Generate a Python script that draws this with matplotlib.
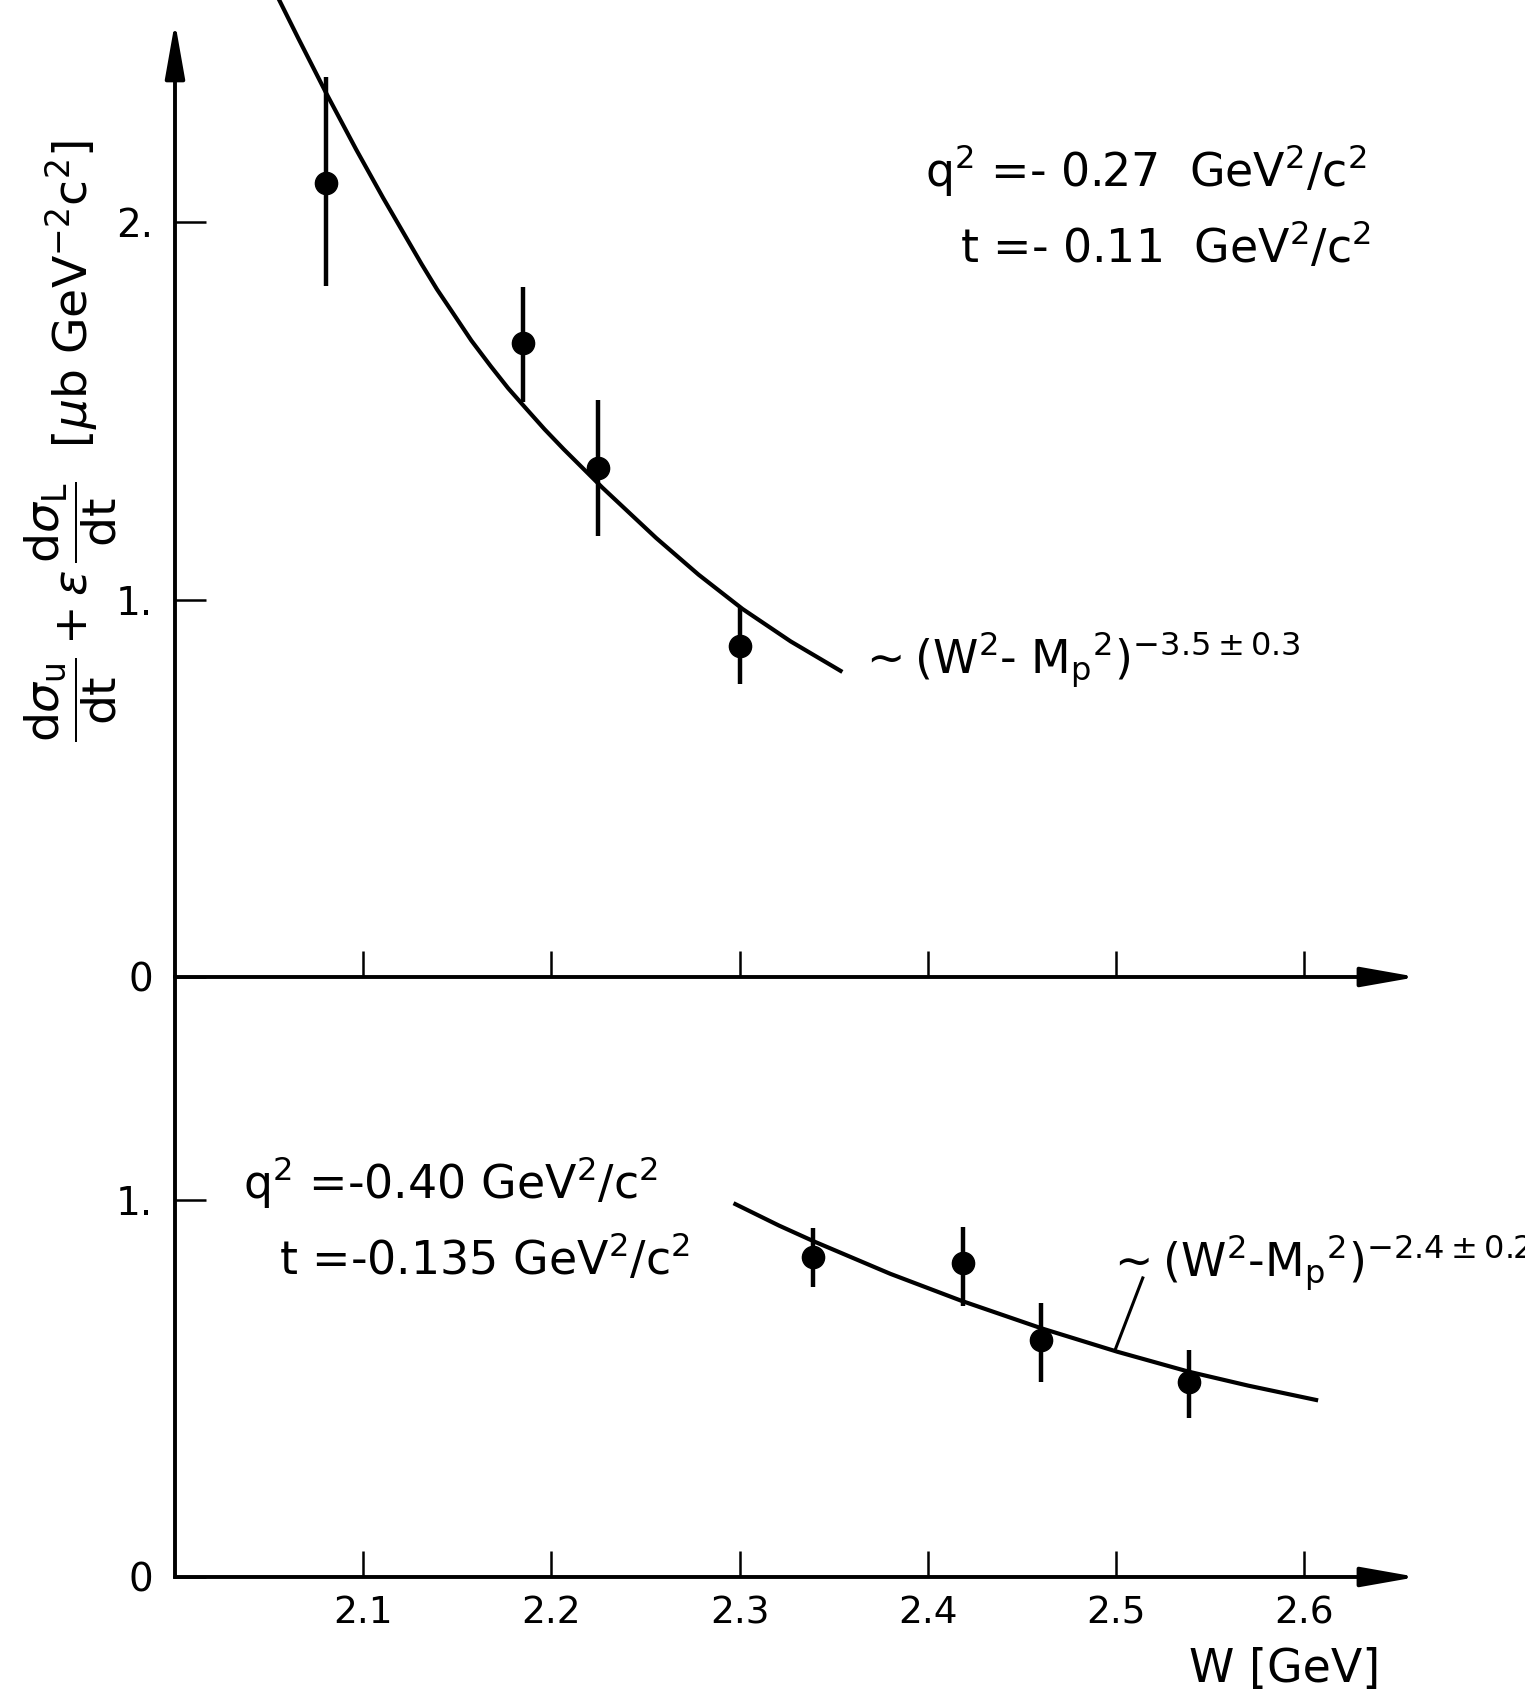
import numpy as np
import matplotlib
matplotlib.use("Agg")
import matplotlib.pyplot as plt

plt.rcParams["font.family"] = ["DejaVu Sans"]
plt.rcParams["mathtext.fontset"] = "dejavusans"

# upper panel: q^2 = -0.27, t = -0.11
w_hi = [2.080, 2.185, 2.225, 2.300]
y_hi = [2.103, 1.679, 1.348, 0.877]
y_hi_top = [2.384, 1.828, 1.528, 0.977]
y_hi_bot = [1.830, 1.523, 1.168, 0.776]
fit_hi_w = [2.0554, 2.0656, 2.0803, 2.0963, 2.1106, 2.1310, 2.1392, 2.1473,
            2.1575, 2.1678, 2.1770, 2.1862, 2.1964, 2.2066, 2.2270, 2.2557,
            2.2782, 2.3016, 2.3272, 2.3537]
fit_hi_y = [2.588, 2.486, 2.342, 2.192, 2.064, 1.889, 1.822, 1.762,
            1.686, 1.618, 1.560, 1.508, 1.451, 1.398, 1.297, 1.163,
            1.066, 0.975, 0.889, 0.811]

# lower panel: q^2 = -0.40, t = -0.135
w_lo = [2.339, 2.419, 2.460, 2.539]
y_lo = [0.849, 0.834, 0.629, 0.518]
y_lo_top = [0.926, 0.929, 0.727, 0.603]
y_lo_bot = [0.770, 0.719, 0.518, 0.422]
fit_lo_w = [2.2978, 2.3210, 2.3400, 2.3801, 2.4181, 2.4606, 2.5008, 2.5388,
            2.5704, 2.6064]
fit_lo_y = [0.990, 0.933, 0.890, 0.805, 0.733, 0.660, 0.598, 0.545,
            0.508, 0.470]

xticks = [2.1, 2.2, 2.3, 2.4, 2.5, 2.6]
xticklabels = ["2.1", "2.2", "2.3", "2.4", "2.5", "2.6"]

fig = plt.figure(figsize=(15.25, 16.96), dpi=100)
ax_u = fig.add_axes([0.11475, 0.42394, 0.8144, 0.5631])
ax_l = fig.add_axes([0.11475, 0.07017, 0.8144, 0.35377])

LW = 2.8
arrow = dict(arrowstyle="-|>,head_length=1.7,head_width=0.3", lw=LW, color="k",
             mutation_scale=20, shrinkA=0, shrinkB=0)

for ax in (ax_u, ax_l):
    ax.set_xlim(2.0, 2.66)
    for s in ax.spines.values():
        s.set_visible(False)
    ax.set_xticks(xticks)
    ax.tick_params(axis="x", direction="in", length=19, width=1.8, pad=13,
                   labelsize=27)
    ax.tick_params(axis="y", direction="in", length=22, width=1.8, pad=16,
                   labelsize=28)
    ax.annotate("", xy=(1, 0), xytext=(0, 0), xycoords="axes fraction",
                arrowprops=arrow)
    ax.patch.set_alpha(0)

ax_u.set_ylim(0, 2.53)
ax_u.set_xticklabels([])
ax_u.set_yticks([0, 1, 2])
ax_u.set_yticklabels(["0", "1.", "2."])
ax_u.annotate("", xy=(0, 1), xytext=(0, 0), xycoords="axes fraction",
              arrowprops=arrow)

ax_l.set_ylim(0, 1.593)
ax_l.set_xticklabels(xticklabels)
ax_l.set_yticks([0, 1])
ax_l.set_yticklabels(["0", "1."])
ax_l.spines["left"].set_visible(True)
ax_l.spines["left"].set_linewidth(LW)

# data points with asymmetric errors
for ax, w, y, top, bot in ((ax_u, w_hi, y_hi, y_hi_top, y_hi_bot),
                           (ax_l, w_lo, y_lo, y_lo_top, y_lo_bot)):
    y = np.array(y)
    err = [y - np.array(bot), np.array(top) - y]
    ax.errorbar(w, y, yerr=err, fmt="o", ms=16, color="k", elinewidth=3.2,
                capsize=0, clip_on=False)

ax_u.plot(fit_hi_w, fit_hi_y, color="k", lw=3.0, clip_on=False,
          solid_joinstyle="round")
ax_l.plot(fit_lo_w, fit_lo_y, color="k", lw=3.0, clip_on=False,
          solid_joinstyle="round")

# leader line to lower fit label
ax_l.plot([2.500, 2.5143], [0.608, 0.794], color="k", lw=2.2)

TS = 33
ax_u.text(2.3985, 2.095, r"q$^2$ =- 0.27  GeV$^2$/c$^2$", fontsize=TS, va="baseline")
ax_u.text(2.4171, 1.894, r"t =- 0.11  GeV$^2$/c$^2$", fontsize=TS, va="baseline")
ax_u.text(2.363, 0.805, r"$\sim$(W$^2$- M$_\mathrm{p}$${}^2$)$^{-3.5\pm0.3}$",
          fontsize=TS, va="baseline")

ax_l.text(2.0361, 1.005, r"q$^2$ =-0.40 GeV$^2$/c$^2$", fontsize=TS, va="baseline")
ax_l.text(2.0553, 0.804, r"t =-0.135 GeV$^2$/c$^2$", fontsize=TS, va="baseline")
ax_l.text(2.4945, 0.799, r"$\sim$(W$^2$-M$_\mathrm{p}$${}^2$)$^{-2.4\pm0.2}$",
          fontsize=TS, va="baseline", clip_on=False)

ax_l.text(2.539, -0.279, "W [GeV]", fontsize=TS, va="baseline", clip_on=False)

fig.text(0.046, 0.740,
         r"$\dfrac{\mathrm{d}\sigma_\mathrm{u}}{\mathrm{dt}}+\varepsilon\,"
         r"\dfrac{\mathrm{d}\sigma_\mathrm{L}}{\mathrm{dt}}$  "
         r"[$\mu$b GeV$^{-2}$c$^2$]",
         fontsize=34, rotation=90, ha="center", va="center")

plt.savefig("out.png", dpi=100)
print("saved out.png")
